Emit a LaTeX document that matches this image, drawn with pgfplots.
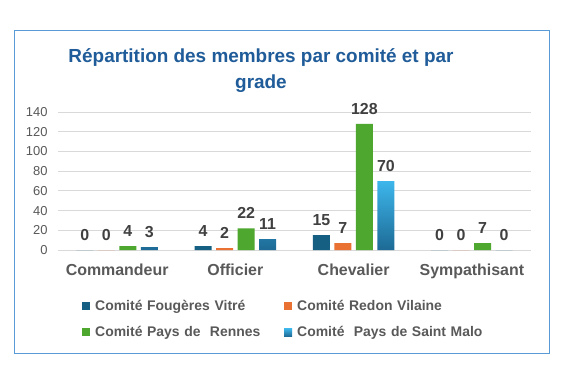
\documentclass[border=0pt]{standalone}
\usepackage{pgfplots}
\pgfplotsset{compat=1.18}
\usepackage{fontspec}
\setmainfont{Liberation Sans}
\definecolor{cA}{HTML}{156082}
\definecolor{cB}{HTML}{E97132}
\definecolor{cC}{HTML}{4EA72E}
\definecolor{cDt}{HTML}{3DB6EB}
\definecolor{cDb}{HTML}{1D6A95}
\definecolor{titlec}{HTML}{1F5C99}
\definecolor{txt}{HTML}{595959}
\definecolor{lab}{HTML}{404040}
\definecolor{framec}{HTML}{5B9BD5}
\definecolor{gridc}{HTML}{D9D9D9}
\begin{document}
\begin{tikzpicture}[x=1bp,y=1bp]
\path[fill=white] (0,0) rectangle (564,366);
\draw[framec, line width=1bp] (14,13) rectangle (549,336);
\node[font=\bfseries\fontsize{19}{26}\selectfont, text=titlec, align=center] at (261,295) {Répartition des membres par comité et par\\grade};
\begin{axis}[
  at={(58bp,116bp)}, anchor=south west,
  scale only axis, width=473bp, height=138bp,
  xmin=-0.5, xmax=3.5, ymin=0, ymax=140,
  ybar=4.5bp, bar width=17bp,
  xtick={0,1,2,3},
  xticklabels={Commandeur,Officier,Chevalier,Sympathisant},
  ytick={0,20,...,140},
  ymajorgrids, grid style={gridc, line width=0.8bp},
  axis line style={draw=none},
  major tick length=0pt,
  /pgf/number format/assume math mode=true,
  yticklabel style={font=\fontsize{13}{15}\selectfont, text=txt, xshift=-7bp},
  xticklabel style={font=\bfseries\fontsize{16}{18}\selectfont, text=txt, yshift=-10bp},
  clip=false,
  nodes near coords,
  every node near coord/.append style={font=\bfseries\fontsize{16}{18}\selectfont, text=lab, anchor=south, yshift=6bp},
  legend columns=2,
  legend style={at={(0.0445,-0.345)}, anchor=north west, draw=none, fill=none,
    font=\bfseries\fontsize{14}{16}\selectfont, text=txt,
    nodes={inner sep=0pt, text width=189bp, align=left},
    /tikz/every even column/.append style={column sep=0pt},
    row sep=15bp},
  legend image code/.code={\path[#1, draw=none] (0bp,-4bp) rectangle (8bp,4bp); \path (13bp,0bp);},
  legend cell align=left,
]
\addplot[fill=cA, draw=none] coordinates {(0,0) (1,4) (2,15) (3,0)};
\addplot[fill=cB, draw=none] coordinates {(0,0) (1,2) (2,7) (3,0)};
\addplot[fill=cC, draw=none] coordinates {(0,4) (1,22) (2,128) (3,7)};
\addplot[top color=cDt, bottom color=cDb, draw=none] coordinates {(0,3) (1,11) (2,70) (3,0)};
\legend{Comité Fougères Vitré, Comité Redon Vilaine, Comité Pays de~~Rennes, Comité~~Pays de Saint Malo}
\end{axis}
\end{tikzpicture}
\end{document}
